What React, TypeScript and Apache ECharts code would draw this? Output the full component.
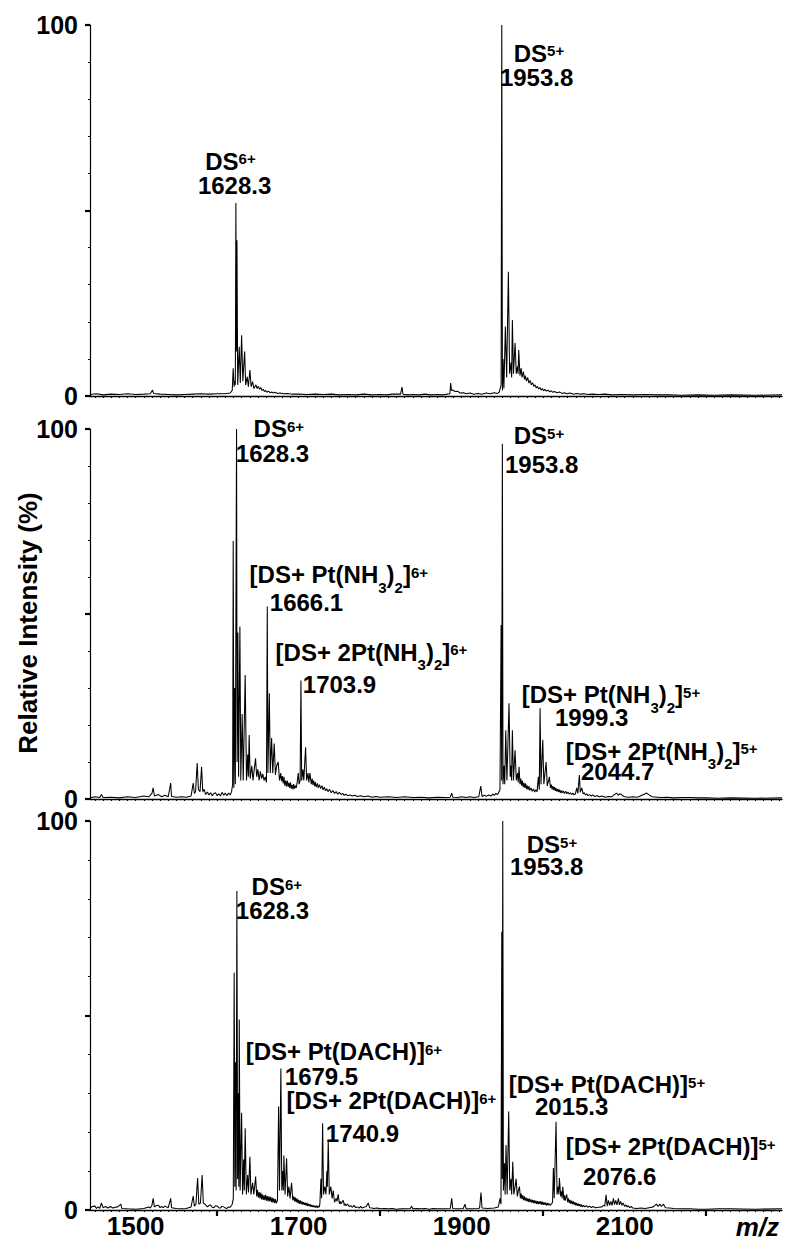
import React, { useEffect, useRef } from "react";
import * as echarts from "echarts";

const FONT = "'Liberation Sans', Arial, Helvetica, sans-serif";
const X_MIN = 1444;
const X_MAX = 2293;

const yTickLabels = ["0", "100"];
const xLabelValues = [1500, 1700, 1900, 2100];
const xMajorTickValues = [1600, 1800, 2000, 2200];

// [m/z, relative intensity %]
const topSpectrum: number[][] = [
  [1444, 0.4], [1452, 0.6], [1460, 0.3], [1470, 0.5], [1480, 0.4], [1490, 0.6], [1500, 0.4], [1510, 0.5], [1518, 0.6], [1520.7, 1.6], [1522, 0.7],
  [1530, 0.5], [1540, 0.4], [1550, 0.3], [1560, 0.4], [1570, 0.5], [1580, 0.6], [1590, 0.5], [1600, 0.6], [1610, 0.6], [1616, 0.8], [1618.5, 1.5],
  [1619.7, 7.5], [1620.8, 2.5], [1621.5, 4], [1622.3, 3], [1623.0, 52], [1623.6, 12], [1624.3, 42], [1625.2, 3], [1627.1, 13.3], [1628.4, 3.5],
  [1630, 16.4], [1631.5, 4], [1633.7, 12], [1635, 3], [1636.9, 5.2], [1638.3, 2.5], [1640.2, 7], [1641.7, 2.5], [1643.5, 3.9], [1645, 2],
  [1647.6, 3], [1649, 2], [1650.5, 2.6], [1652, 1.8], [1653.5, 2.3], [1655, 1.5], [1656.5, 1.8], [1658, 1.2], [1659.5, 1.5], [1661, 1],
  [1663, 1.3], [1665, 0.9], [1667, 1.1], [1669, 0.8], [1671, 1], [1674, 0.7], [1677, 0.8], [1681, 0.6], [1686, 0.7], [1692, 0.5], [1700, 0.5],
  [1710, 0.4], [1720, 0.5], [1730, 0.4], [1740, 0.5], [1750, 0.3], [1760, 0.4], [1770, 0.3], [1780, 0.5], [1790, 0.3], [1800, 0.4], [1808, 0.3],
  [1815, 0.5], [1825, 0.5], [1826.8, 2.4], [1828, 0.5], [1834, 0.3], [1840, 0.4], [1848, 0.3], [1855, 0.5], [1862, 0.3], [1870, 0.4],
  [1876, 0.3], [1882, 0.5], [1885.5, 0.6], [1886.5, 3.5], [1887.5, 1.5], [1889, 1.6], [1892, 1.2], [1895, 1.3], [1898, 0.8], [1902, 0.9],
  [1906, 0.6], [1910, 0.8], [1915, 0.5], [1920, 0.7], [1925, 0.5], [1930, 0.8], [1935, 0.6], [1940, 0.9], [1944, 0.7], [1946, 1],
  [1948.4, 3], [1949.2, 100], [1950, 1.5], [1950.8, 10], [1951.8, 2], [1953.6, 18.7], [1955.2, 5], [1957.3, 33.5], [1958.8, 6], [1960.5, 9],
  [1961.3, 5], [1962.2, 20.5], [1963.5, 6], [1965.5, 14.3], [1967, 6], [1968.5, 8], [1969.2, 6], [1970, 12.4], [1971.5, 5.5], [1973, 7.5],
  [1974, 5], [1975.7, 6.6], [1977, 4.5], [1978, 5.5], [1979.5, 4], [1981, 5], [1982.5, 3.5], [1984, 4.2], [1985.5, 3], [1987, 3.6],
  [1988.5, 2.6], [1990, 3], [1991.5, 2.2], [1993, 2.6], [1994.5, 1.9], [1996, 2.3], [1997.5, 1.6], [1999, 2], [2000.5, 1.4], [2002, 1.8],
  [2004, 1.3], [2006, 1.6], [2008, 1.1], [2010, 1.4], [2012, 1], [2014, 1.2], [2017, 0.9], [2020, 1.1], [2023, 0.7], [2026, 0.9], [2029, 0.6],
  [2033, 0.8], [2037, 0.5], [2041, 0.7], [2046, 0.5], [2050, 0.6], [2055, 0.4], [2060, 0.5], [2068, 0.4], [2075, 0.5], [2085, 0.3], [2095, 0.4],
  [2110, 0.3], [2125, 0.4], [2140, 0.3], [2155, 0.3], [2170, 0.2], [2190, 0.3], [2210, 0.2], [2230, 0.3], [2260, 0.2], [2293, 0.3],
];

const midSpectrum: number[][] = [
  [1444, 0.3], [1450, 0.6], [1456, 0.4], [1458, 1.2], [1460, 0.4], [1470, 0.5], [1480, 0.3], [1490, 0.6], [1500, 0.4], [1510, 0.8], [1516, 0.6],
  [1520, 1.5], [1521.5, 3], [1523, 0.8], [1528, 1.2], [1532, 0.6], [1536, 1], [1540, 0.6], [1543, 4.3], [1544, 0.7], [1550, 0.5], [1556, 0.6],
  [1562, 0.5], [1568, 0.8], [1570.6, 4.3], [1572, 1.5], [1573.5, 2], [1575.5, 9.7], [1577, 2.5], [1579, 2], [1580.9, 8.7], [1582.3, 2], [1584, 2.6],
  [1586, 1.2], [1588, 1.9], [1590, 1.1], [1592, 1.7], [1594, 0.9], [1596, 1.5], [1598, 1.7], [1600, 0.9], [1602, 1.4], [1604, 0.8], [1606, 1.8],
  [1608, 1], [1610, 1.6], [1612, 0.9], [1614, 1.6], [1616, 1.1], [1617.7, 2], [1619, 4],
  [1619.7, 69.7], [1620.5, 3], [1621.5, 30], [1622.3, 4], [1623.8, 100], [1624.5, 10], [1625.4, 45], [1626.3, 6], [1627.9, 46.6], [1629, 5],
  [1630.7, 23], [1632, 5], [1634.4, 33.5], [1636, 5], [1637.5, 12], [1638.3, 6], [1639.3, 17.3], [1640.5, 5.5], [1642.5, 9], [1644, 5], [1645.5, 8],
  [1647.1, 11], [1648.5, 6], [1650, 8], [1651.5, 5], [1653, 7.5], [1654.5, 5.5], [1656, 6.8], [1657.5, 5], [1659, 6], [1660.5, 4.5],
  [1661.5, 52], [1662.3, 7], [1664, 28.6], [1665.2, 7], [1666.8, 16.5], [1668.2, 7], [1670, 15], [1671.5, 6.5], [1673, 9], [1674.9, 10], [1676.5, 5],
  [1678, 7], [1679, 4.8], [1680, 6.2], [1681, 4.2], [1682, 6], [1683, 3.6], [1684, 5], [1685, 3.4], [1686, 5], [1687, 3.3], [1688, 4.4],
  [1689, 3], [1690, 4.5], [1691, 2.8], [1692, 3.8], [1693, 2.6], [1694, 4], [1695, 2.8], [1696, 3.6], [1697, 3], [1698, 4.2], [1699.5, 7],
  [1700.5, 4], [1701.8, 5], [1702.8, 32], [1703.7, 5], [1705.2, 8], [1706.3, 5], [1708.5, 14], [1709.8, 5], [1711.5, 7], [1712.5, 4.5], [1713.8, 7],
  [1715.5, 4], [1716.5, 5.5], [1717.5, 3.8], [1718.5, 5], [1719.5, 3.5], [1720.5, 4.6], [1721.5, 3.2], [1723, 4.2], [1724, 3], [1725.5, 3.9],
  [1727, 2.8], [1728.5, 3.6], [1730, 2.5], [1731.5, 3.2], [1733, 2.2], [1734.5, 2.8], [1736, 2], [1738, 2.6], [1740, 1.7], [1742, 2.3],
  [1744, 1.5], [1746, 2], [1748, 1.3], [1750, 1.8], [1752, 1.2], [1754, 1.5], [1756, 1], [1758, 1.3], [1760, 0.9], [1763, 1.1], [1766, 0.8],
  [1769, 1], [1772, 0.7], [1776, 0.9], [1780, 0.6], [1785, 0.8], [1790, 0.5], [1795, 0.7], [1800, 0.5], [1810, 0.6], [1820, 0.4], [1830, 0.6],
  [1840, 0.4], [1850, 0.5], [1860, 0.3], [1870, 0.5], [1880, 0.4], [1886, 0.5], [1887.8, 1.6], [1889, 0.5], [1895, 0.4], [1900, 0.6],
  [1905, 0.4], [1910, 0.6], [1915, 0.4], [1921, 0.6], [1923.4, 3.5], [1925, 0.7], [1928, 1], [1930, 0.7], [1933, 1.1], [1936, 0.8],
  [1938, 1.3], [1940, 1], [1942, 1.5], [1944, 1.2], [1946, 2], [1947, 2.5],
  [1948.4, 47], [1949.1, 5], [1949.9, 96], [1950.7, 4], [1952, 9], [1952.8, 4], [1954.1, 18.6], [1955.5, 5], [1958.1, 25.9], [1959.5, 6], [1960.5, 9],
  [1961.2, 5], [1962.2, 18.6], [1963.5, 5], [1965.5, 13.2], [1967, 5], [1968.5, 7], [1969.4, 4.5], [1970.4, 8.7], [1971.5, 4], [1972.5, 5.5],
  [1973.5, 3.6], [1974.5, 5], [1975.5, 3.2], [1976.5, 4.4], [1977.5, 3], [1978.5, 4.2], [1979.5, 2.7], [1980.5, 3.6], [1981.5, 2.5],
  [1982.5, 3.5], [1983.5, 2.3], [1985, 3], [1986.5, 2.1], [1988, 2.7], [1989.5, 1.9], [1991, 2.5], [1992.5, 2], [1994.1, 6], [1995.2, 2.5],
  [1996.2, 24.5], [1997.3, 4], [1999.5, 16], [2000.8, 4], [2003.6, 10], [2005, 3.5], [2007.6, 6], [2009, 3], [2010, 3.9], [2011, 2.6],
  [2012, 3.5], [2013, 2.4], [2014, 3.2], [2015, 2.2], [2016, 2.9], [2017, 2], [2018, 2.7], [2019, 1.9], [2020, 2.5], [2021, 1.7], [2022, 2.3],
  [2023, 1.6], [2024.5, 2.2], [2026, 1.5], [2027.5, 2.1], [2029, 1.4], [2030.5, 1.9], [2032, 1.3], [2033.5, 1.7], [2035, 1.2], [2036.5, 1.6],
  [2038, 1.1], [2039.5, 1.4], [2041.2, 3], [2042.5, 1.5], [2044.4, 6.5], [2045.5, 1.8], [2047.4, 3], [2049, 1.4], [2050.5, 1.7], [2052, 1.1],
  [2053.5, 1.4], [2055, 0.9], [2057, 1.2], [2059, 0.8], [2061, 1.1], [2063, 0.7], [2066, 0.9], [2069, 0.6], [2072, 0.8], [2076, 0.5],
  [2080, 0.7], [2084, 0.6], [2086, 0.9], [2088, 1.3], [2090.3, 1.6], [2092, 1], [2094, 1.4], [2096, 1.2], [2098, 0.8], [2100, 0.6],
  [2105, 0.5], [2110, 0.6], [2115, 0.5], [2118, 0.7], [2121, 1], [2124, 1.3], [2127, 1.6], [2130, 1.1], [2132, 0.8], [2134, 0.6], [2140, 0.5],
  [2145, 0.4], [2152, 0.5], [2160, 0.3], [2170, 0.4], [2180, 0.4], [2190, 0.3], [2200, 0.3], [2215, 0.2], [2230, 0.3], [2260, 0.2], [2293, 0.3],
];

const botSpectrum: number[][] = [
  [1444, 0.5], [1447, 0.9], [1450, 1], [1452, 0.4], [1454, 0.8], [1456, 0.4], [1458, 1.8], [1460, 0.6], [1463, 0.9], [1466, 0.5], [1469, 0.9],
  [1472, 0.5], [1475, 0.7], [1478, 0.8], [1481.8, 1.5], [1483, 0.4], [1490, 0.3], [1500, 0.2], [1510, 0.4], [1516, 0.8], [1518, 0.5],
  [1520, 1.2], [1521.5, 3], [1523, 0.8], [1525, 1.1], [1528, 1.2], [1530, 0.6], [1532, 0.9], [1534, 0.6], [1536, 1], [1540, 0.6], [1543, 3],
  [1544, 0.6], [1550, 0.4], [1556, 0.3], [1562, 0.4], [1568, 0.8], [1570.6, 3.6], [1572, 1], [1574, 1.5], [1576, 8.2], [1577.5, 1.5], [1579.5, 1.8],
  [1581.6, 9], [1583, 1.8], [1585, 1.5], [1588, 0.8], [1590, 1.2], [1592, 1.3], [1594, 0.7], [1596, 0.6], [1598, 1.1], [1600, 1], [1602, 0.6],
  [1604, 0.5], [1606, 1], [1608, 0.8], [1610, 0.5], [1612, 0.4], [1614, 0.8], [1616, 0.7], [1618.5, 1.5], [1619.8, 3],
  [1620.9, 61], [1621.7, 6], [1622.5, 38], [1623.3, 5], [1624.2, 82], [1625.1, 8], [1626, 30], [1626.6, 6], [1627.1, 49], [1628.2, 5], [1630, 25],
  [1631.2, 4], [1632.5, 13], [1633.3, 5], [1634.4, 21], [1635.8, 4], [1637.5, 9], [1638.5, 4.5], [1640.2, 13.7], [1641.5, 4], [1643.5, 7], [1645, 4],
  [1647.2, 8.6], [1648.5, 3.5], [1649.5, 5.2], [1650.5, 3.2], [1651.5, 4.6], [1652.5, 3], [1653.5, 4.5], [1654.5, 2.7], [1655.5, 4],
  [1656.5, 2.6], [1657.5, 3.8], [1658.5, 2.5], [1659.5, 3.9], [1660.5, 2.4], [1661.5, 3.6], [1662.5, 2.2], [1663.5, 3.5], [1664.5, 2.3],
  [1665.5, 3.4], [1666.5, 2], [1667.5, 3.2], [1668.5, 1.9], [1669.5, 3], [1670.5, 1.8], [1671.5, 2.8], [1672.5, 1.7], [1674, 2.5],
  [1675.4, 26.6], [1676.5, 5], [1678.2, 36.4], [1679.3, 5], [1680.5, 10], [1681.2, 5], [1681.9, 14], [1683.3, 4], [1685.2, 13.3], [1686.5, 3.5],
  [1688, 6], [1689.5, 3], [1691.3, 7], [1692.8, 2.5], [1694, 3.5], [1695, 2.2], [1696, 3.2], [1697, 2], [1698, 3], [1699, 1.8], [1700, 2.6],
  [1701, 1.6], [1702, 2.5], [1703, 1.5], [1704, 2.2], [1705, 1.4], [1706, 2], [1707, 1.3], [1708, 1.9], [1709, 1.1], [1710, 1.8], [1711, 1],
  [1712, 1.6], [1713, 1], [1714, 1.5], [1715, 0.8], [1716, 1.3], [1717, 0.8], [1718, 1.2], [1719, 0.7], [1720, 1.1], [1721, 0.6], [1722, 1.1],
  [1723, 0.6], [1724, 1], [1725, 0.7], [1726, 1.5],
  [1727.3, 8], [1728.2, 3], [1729.4, 22.3], [1730.5, 4], [1732, 6], [1733.5, 4], [1734.6, 10], [1735.2, 6], [1736.3, 17.6], [1737.6, 4], [1739.5, 6],
  [1741, 3], [1742.4, 5], [1744, 2], [1746, 3], [1747, 2.2], [1748.5, 4], [1750, 1.6], [1751, 2.2], [1752, 1.5], [1753, 2], [1754.7, 2.5],
  [1756, 1.2], [1757, 1.6], [1758, 1.1], [1760, 1.5], [1762, 0.9], [1764, 1.1], [1766, 0.7], [1768, 1.2], [1770, 0.6], [1772, 0.8],
  [1774, 0.5], [1776, 0.9], [1778, 0.5], [1780, 0.7], [1783, 0.9], [1785.4, 1.8], [1787, 0.6], [1790, 0.5], [1792, 0.4], [1796, 0.5],
  [1800, 0.3], [1805, 0.4], [1810, 0.3], [1815, 0.4], [1820, 0.2], [1825, 0.3], [1830, 0.3], [1837, 0.4], [1838.7, 1], [1840, 0.3], [1845, 0.4],
  [1850, 0.3], [1855, 0.4], [1860, 0.2], [1865, 0.4], [1870, 0.3], [1875, 0.3], [1880, 0.3], [1886, 0.4], [1887.8, 3], [1889, 0.4],
  [1895, 0.3], [1902, 0.4], [1904.1, 1.5], [1905.5, 0.3], [1912, 0.3], [1920, 0.4], [1922, 0.5], [1923.7, 4.5], [1925, 0.5], [1932, 0.4],
  [1940, 0.5], [1945, 0.8], [1947, 3], [1948.2, 1.5],
  [1949.2, 71.5], [1949.8, 8], [1950.4, 100], [1951.2, 5], [1952.5, 12], [1953.3, 4], [1954.4, 16.7], [1955.8, 4], [1957.7, 25.3], [1959, 5],
  [1960.5, 8], [1961.3, 4], [1962.7, 12.4], [1964, 4], [1965.5, 6], [1966.8, 8], [1968.3, 3.5], [1969.5, 5], [1970.9, 6], [1972, 3],
  [1973, 4.2], [1974, 2.8], [1975, 3.8], [1976, 2.5], [1977, 3.5], [1978, 2.4], [1979, 3.2], [1980, 2.2], [1981, 3], [1982, 2.1],
  [1983, 2.9], [1984, 2], [1985, 2.7], [1986, 1.9], [1987, 2.6], [1988, 1.8], [1989, 2.5], [1990, 1.7], [1991, 2.4], [1992, 1.6], [1993, 2.3],
  [1994, 1.5], [1995, 2.2], [1996.2, 1.5], [1997, 2.3], [1998, 1.4], [1999, 2.1], [2000, 1.3], [2001, 2], [2002, 1.3], [2003, 1.9],
  [2004, 1.2], [2005, 1.8], [2006, 1.2], [2007, 1.7], [2008.5, 1.2], [2010, 1.5], [2011.5, 2],
  [2012.5, 10.8], [2013.5, 3], [2015.8, 22.7], [2017, 4], [2018.5, 6], [2019.2, 4], [2019.9, 8.2], [2021.5, 3.5], [2022.5, 4.8], [2023.3, 3],
  [2024, 6], [2025.5, 2.5], [2026.3, 3.8], [2027, 2.4], [2028.9, 4], [2030, 2], [2031, 3], [2032, 1.8], [2033, 2.6], [2034, 1.6], [2035, 2.4],
  [2036, 1.5], [2037, 2.2], [2038, 1.3], [2039, 2], [2040, 1.2], [2041, 1.8], [2042, 1.1], [2043, 1.6], [2044, 1], [2045, 1.5], [2046, 0.9],
  [2047, 1.4], [2048, 0.8], [2049.5, 1.2], [2051, 0.8], [2053, 1.1], [2055, 0.7], [2057, 1], [2059, 0.6], [2061, 0.9], [2064, 0.6], [2068, 0.7],
  [2072, 0.8], [2074, 1.2], [2075.5, 1],
  [2077.2, 3.9], [2078.5, 1], [2080, 2.5], [2081.5, 1.2], [2083, 2.2], [2084.5, 1.2], [2086.2, 3], [2087.5, 1.4], [2089, 2.5], [2090.5, 1.3],
  [2092.3, 3], [2093.5, 1.3], [2095, 2.2], [2096.5, 1.2], [2098, 1.8], [2100, 0.9], [2101.5, 1.3], [2103, 0.8], [2104.5, 1.1], [2106, 0.6],
  [2108, 0.9], [2110, 0.5], [2115, 0.4], [2120, 0.5], [2125, 0.4], [2130, 0.6], [2135, 0.8], [2137, 1.2], [2139, 1.5], [2141, 0.9], [2143, 1.5],
  [2145, 0.9], [2147.6, 1.5], [2150, 0.6], [2155, 0.5], [2160, 0.4], [2170, 0.3], [2180, 0.3], [2190, 0.2], [2200, 0.2], [2215, 0.3],
  [2230, 0.3], [2260, 0.2], [2293, 0.3],
];

type Ann = { text: string; at: number[] };

const topLabels: Ann[] = [
  { text: "{m|DS}{p|6+}", at: [1586, 63.2] },
  { text: "{m|1628.3}", at: [1577, 56.5] },
  { text: "{m|DS}{p|5+}", at: [1964.5, 92.2] },
  { text: "{m|1953.8}", at: [1947.5, 85.7] },
];

const midLabels: Ann[] = [
  { text: "{m|DS}{p|6+}", at: [1645.3, 100] },
  { text: "{m|1628.3}", at: [1623.5, 93.2] },
  { text: "{m|[DS+ Pt(NH}{s|3}{m|)}{s|2}{m|]}{p|6+}", at: [1640.4, 60.5] },
  { text: "{m|1666.1}", at: [1665.2, 53.1] },
  { text: "{m|[DS+ 2Pt(NH}{s|3}{m|)}{s|2}{m|]}{p|6+}", at: [1672.3, 39.5] },
  { text: "{m|1703.9}", at: [1705.7, 30.7] },
  { text: "{m|DS}{p|5+}", at: [1964.5, 98] },
  { text: "{m|1953.8}", at: [1953.7, 90.3] },
  { text: "{m|[DS+ Pt(NH}{s|3}{m|)}{s|2}{m|]}{p|5+}", at: [1974.3, 28.1] },
  { text: "{m|1999.3}", at: [2015.1, 21.8] },
  { text: "{m|[DS+ 2Pt(NH}{s|3}{m|)}{s|2}{m|]}{p|5+}", at: [2028.4, 12.8] },
  { text: "{m|2044.7}", at: [2047, 7.2] },
];

const botLabels: Ann[] = [
  { text: "{m|DS}{p|6+}", at: [1642.9, 83] },
  { text: "{m|1628.3}", at: [1623.5, 76.9] },
  { text: "{m|[DS+ Pt(DACH)]}{p|6+}", at: [1635.6, 40.6] },
  { text: "{m|1679.5}", at: [1683.6, 34.3] },
  { text: "{m|[DS+ 2Pt(DACH)]}{p|6+}", at: [1685.8, 28] },
  { text: "{m|1740.9}", at: [1733.9, 19.5] },
  { text: "{m|DS}{p|5+}", at: [1980.5, 93.8] },
  { text: "{m|1953.8}", at: [1959.9, 88.3] },
  { text: "{m|[DS+ Pt(DACH)]}{p|5+}", at: [1958.4, 32.1] },
  { text: "{m|2015.3}", at: [1990.5, 26.6] },
  { text: "{m|[DS+ 2Pt(DACH)]}{p|5+}", at: [2028.4, 16.1] },
  { text: "{m|2076.6}", at: [2049.5, 8.6] },
];

const rich = {
  m: { fontSize: 24, fontWeight: "bold", fontFamily: FONT, color: "#000", lineHeight: 26 },
  p: { fontSize: 15, fontWeight: "bold", fontFamily: FONT, color: "#000", lineHeight: 21, height: 21, verticalAlign: "top" },
  s: { fontSize: 15, fontWeight: "bold", fontFamily: FONT, color: "#000", lineHeight: 1, height: 1, verticalAlign: "bottom" },
};

export default function App() {
  const ref = useRef<HTMLDivElement>(null);

  useEffect(() => {
    document.body.style.margin = "0";
    if (!ref.current) return;
    const chart = echarts.init(ref.current, null, { renderer: "svg" });

    const minorTicks: number[] = [];
    for (let v = 1450; v <= 2290; v += 10) minorTicks.push(v);

    const grids = [
      { left: 90, width: 692, top: 25, height: 371 },
      { left: 90, width: 692, top: 429, height: 370 },
      { left: 90, width: 692, top: 821, height: 389 },
    ];

    const minorXAxis = (gridIndex: number, showLine: boolean) => ({
      type: "value",
      gridIndex,
      min: X_MIN,
      max: X_MAX,
      position: "bottom",
      axisLine: { show: showLine, onZero: false, lineStyle: { color: "#000", width: 1.3 } },
      axisTick: { show: true, customValues: minorTicks, length: 2, lineStyle: { color: "#000", width: 1 } },
      axisLabel: { show: false },
      splitLine: { show: false },
    });

    const mainBottomXAxis = {
      type: "value",
      gridIndex: 2,
      min: X_MIN,
      max: X_MAX,
      position: "bottom",
      axisLine: { show: true, onZero: false, lineStyle: { color: "#000", width: 1.3 } },
      axisTick: { show: true, customValues: xMajorTickValues, length: 6, lineStyle: { color: "#000", width: 2.2 } },
      axisLabel: {
        show: true,
        customValues: xLabelValues,
        margin: 3,
        fontSize: 26,
        fontWeight: "bold",
        fontFamily: FONT,
        color: "#000",
        formatter: (v: number) => String(v),
      },
      splitLine: { show: false },
    };

    const yAxisFor = (gridIndex: number) => ({
      type: "value",
      gridIndex,
      min: 0,
      max: 100,
      interval: 50,
      axisLine: { show: true, onZero: false, lineStyle: { color: "#000", width: 1.2 } },
      axisTick: { show: true, length: 5, lineStyle: { color: "#000", width: 2.2 } },
      minorTick: { show: true, splitNumber: 5, length: 2, lineStyle: { color: "#000", width: 1 } },
      splitLine: { show: false },
      axisLabel: {
        margin: 12,
        fontSize: 25,
        fontWeight: "bold",
        fontFamily: FONT,
        color: "#000",
        formatter: (v: number) => (yTickLabels.includes(String(v)) ? String(v) : ""),
      },
    });

    const spectrumSeries = (data: number[][], xAxisIndex: number, yAxisIndex: number, labels: Ann[]) => ({
      type: "line",
      xAxisIndex,
      yAxisIndex,
      data,
      showSymbol: false,
      symbol: "none",
      silent: true,
      lineStyle: { color: "#000", width: 1.05 },
      markPoint: {
        symbol: "circle",
        symbolSize: 1,
        silent: true,
        itemStyle: { color: "rgba(0,0,0,0)" },
        data: labels.map((l) => ({
          coord: l.at,
          label: {
            show: true,
            position: [0, 0],
            align: "left",
            verticalAlign: "middle",
            formatter: () => l.text,
            rich,
          },
        })),
      },
    });

    chart.setOption({
      animation: false,
      backgroundColor: "#fff",
      grid: grids,
      xAxis: [minorXAxis(0, true), minorXAxis(1, true), mainBottomXAxis, minorXAxis(2, false)],
      yAxis: [yAxisFor(0), yAxisFor(1), yAxisFor(2)],
      series: [
        spectrumSeries(topSpectrum, 0, 0, topLabels),
        spectrumSeries(midSpectrum, 1, 1, midLabels),
        spectrumSeries(botSpectrum, 2, 2, botLabels),
      ],
      graphic: [
        {
          type: "text",
          x: 28,
          y: 623,
          rotation: Math.PI / 2,
          style: {
            text: "Relative Intensity (%)",
            fontSize: 26,
            fontWeight: "bold",
            fontFamily: FONT,
            fill: "#000",
            align: "center",
            verticalAlign: "middle",
          },
        },
        {
          type: "text",
          x: 779,
          y: 1227,
          style: {
            text: "m/z",
            fontSize: 26,
            fontWeight: "bold",
            fontStyle: "italic",
            fontFamily: FONT,
            fill: "#000",
            align: "right",
            verticalAlign: "middle",
          },
        },
      ],
    });

    return () => chart.dispose();
  }, []);

  return <div ref={ref} style={{ width: 800, height: 1257 }} />;
}
